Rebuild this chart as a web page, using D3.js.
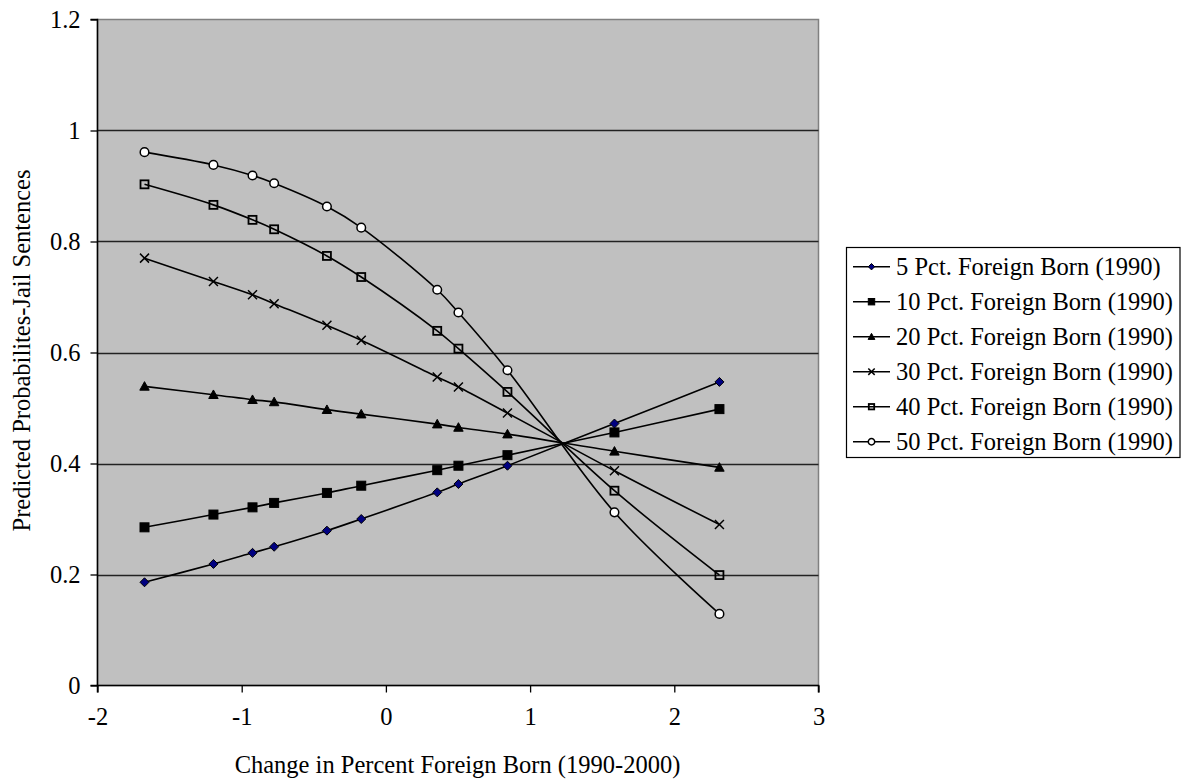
<!DOCTYPE html>
<html>
<head>
<meta charset="utf-8">
<script src="https://cdn.jsdelivr.net/npm/d3@7"></script>
<style>
  html, body { margin: 0; padding: 0; background: #fff; }
  svg { display: block; }
  text { font-family: "Liberation Serif", "Times New Roman", "DejaVu Serif", serif; fill: #000; }
</style>
</head>
<body>
<svg id="chart" width="1187" height="783"></svg>
<script>
// Change in percent foreign born, 1990-2000 (standardized)
const changeFB = [-1.674, -1.196, -0.925, -0.775, -0.409, -0.171, 0.356, 0.503, 0.843, 1.585, 2.313];

// Predicted probability of a jail sentence, by 1990 foreign-born share
const fb5  = [0.186, 0.219, 0.239, 0.250, 0.279, 0.300, 0.348, 0.363, 0.396, 0.472, 0.547];
const fb10 = [0.285, 0.308, 0.321, 0.329, 0.347, 0.360, 0.388, 0.396, 0.415, 0.456, 0.498];
const fb20 = [0.539, 0.524, 0.515, 0.511, 0.497, 0.489, 0.471, 0.465, 0.453, 0.422, 0.393];
const fb30 = [0.770, 0.728, 0.704, 0.688, 0.649, 0.622, 0.556, 0.538, 0.491, 0.387, 0.290];
const fb40 = [0.903, 0.866, 0.839, 0.822, 0.774, 0.736, 0.639, 0.607, 0.529, 0.351, 0.199];
const fb50 = [0.961, 0.938, 0.919, 0.905, 0.863, 0.825, 0.713, 0.672, 0.568, 0.312, 0.129];

const seriesNames = [
  "5 Pct. Foreign Born (1990)",
  "10 Pct. Foreign Born (1990)",
  "20 Pct. Foreign Born (1990)",
  "30 Pct. Foreign Born (1990)",
  "40 Pct. Foreign Born (1990)",
  "50 Pct. Foreign Born (1990)"
];
const seriesValues = [fb5, fb10, fb20, fb30, fb40, fb50];
const markerKinds = ["diamond", "square", "triangle", "cross", "openSquare", "circle"];

const xTicks = [-2, -1, 0, 1, 2, 3];
const yTicks = [0, 0.2, 0.4, 0.6, 0.8, 1, 1.2];
const xTickLabels = ["-2", "-1", "0", "1", "2", "3"];
const yTickLabels = ["0", "0.2", "0.4", "0.6", "0.8", "1", "1.2"];

const xTitle = "Change in Percent Foreign Born (1990-2000)";
const yTitle = "Predicted Probabilites-Jail Sentences";

// ---- layout ----
const plot = { left: 97.5, right: 818.5, top: 19.5, bottom: 685.5 };
const fontSize = 24.5;
const serif = "'Liberation Serif', 'Times New Roman', 'DejaVu Serif', serif";

const svg = d3.select("#chart");

const x = d3.scaleLinear().domain([-2, 3]).range([plot.left, plot.right]);
const y = d3.scaleLinear().domain([0, 1.2]).range([plot.bottom, plot.top]);

// plot area background
svg.append("rect")
  .attr("x", plot.left).attr("y", plot.top)
  .attr("width", plot.right - plot.left).attr("height", plot.bottom - plot.top)
  .attr("fill", "#c0c0c0").attr("stroke", "#808080").attr("stroke-width", 1.5);

// horizontal gridlines
svg.append("g").selectAll("line")
  .data(yTicks.filter(d => d > 0 && d < 1.2))
  .join("line")
  .attr("x1", plot.left).attr("x2", plot.right)
  .attr("y1", d => Math.round(y(d)) + 0.5).attr("y2", d => Math.round(y(d)) + 0.5)
  .attr("stroke", "#222").attr("stroke-width", 1.3);

// axes
const yAxis = d3.axisLeft(y).tickValues(yTicks)
  .tickFormat((d, i) => yTickLabels[i]).tickSize(7).tickPadding(10);
const xAxis = d3.axisBottom(x).tickValues(xTicks)
  .tickFormat((d, i) => xTickLabels[i]).tickSize(7).tickPadding(15);

const gy = svg.append("g").attr("transform", `translate(${plot.left},0)`).call(yAxis);
const gx = svg.append("g").attr("transform", `translate(0,${plot.bottom})`).call(xAxis);

[gx, gy].forEach(g => {
  g.attr("font-family", null).attr("font-size", null);
  g.select(".domain").attr("stroke", "#000").attr("stroke-width", 1.5);
  g.selectAll(".tick line").attr("stroke", "#000").attr("stroke-width", 1.3);
  g.selectAll(".tick text")
    .style("font-family", serif)
    .attr("font-size", fontSize).attr("fill", "#000");
});
gx.select(".domain").attr("d", `M${plot.left},7V0H${plot.right}V7`);
gy.select(".domain").attr("d", `M-7,${plot.bottom}H0V${plot.top}H-7`);

// axis titles
svg.append("text")
  .attr("x", (plot.left + plot.right) / 2 - 0.5).attr("y", 773)
  .attr("text-anchor", "middle").attr("font-size", fontSize)
  .style("font-family", serif)
  .text(xTitle);

svg.append("text")
  .attr("transform", `translate(30,${(plot.top + plot.bottom) / 2 - 2}) rotate(-90)`)
  .attr("text-anchor", "middle").attr("font-size", fontSize)
  .style("font-family", serif)
  .text(yTitle);

// ---- markers ----
function drawMarker(g, kind, s) {
  // s = half-size of the marker
  switch (kind) {
    case "diamond":
      g.append("path").attr("d", `M0,${-s}L${s},0L0,${s}L${-s},0Z`)
        .attr("fill", "#000080").attr("stroke", "#000").attr("stroke-width", 1);
      break;
    case "square":
      g.append("rect").attr("x", -s).attr("y", -s).attr("width", 2 * s).attr("height", 2 * s)
        .attr("fill", "#000").attr("stroke", "#000").attr("stroke-width", 1);
      break;
    case "triangle":
      g.append("path").attr("d", `M0,${-s * 1.05}L${s * 1.05},${s * 0.85}L${-s * 1.05},${s * 0.85}Z`)
        .attr("fill", "#000").attr("stroke", "#000").attr("stroke-width", 1);
      break;
    case "cross":
      g.append("path").attr("d", `M${-s},${-s}L${s},${s}M${-s},${s}L${s},${-s}`)
        .attr("fill", "none").attr("stroke", "#000").attr("stroke-width", 1.5);
      break;
    case "openSquare":
      g.append("rect").attr("x", -s + 0.5).attr("y", -s + 0.5).attr("width", 2 * s - 1).attr("height", 2 * s - 1)
        .attr("fill", "none").attr("stroke", "#000").attr("stroke-width", 1.8);
      break;
    case "circle":
      g.append("circle").attr("r", s)
        .attr("fill", "#fff").attr("stroke", "#000").attr("stroke-width", 1.5);
      break;
  }
}

const line = d3.line()
  .x(d => x(d[0]))
  .y(d => y(d[1]))
  .curve(d3.curveCatmullRom.alpha(0.5));

const seriesG = svg.append("g");
seriesValues.forEach((vals, i) => {
  const pts = changeFB.map((c, j) => [c, vals[j]]);
  seriesG.append("path")
    .datum(pts)
    .attr("d", line)
    .attr("fill", "none").attr("stroke", "#000").attr("stroke-width", 1.6);
});
seriesValues.forEach((vals, i) => {
  changeFB.forEach((c, j) => {
    const g = seriesG.append("g").attr("transform", `translate(${x(c)},${y(vals[j])})`);
    drawMarker(g, markerKinds[i], markerKinds[i] === "circle" ? 4.3 : 4.5);
  });
});

// ---- legend ----
const legend = svg.append("g");
const lgBox = { x: 846.5, y: 247.5, w: 333.5, h: 210 };
legend.append("rect")
  .attr("x", lgBox.x).attr("y", lgBox.y).attr("width", lgBox.w).attr("height", lgBox.h)
  .attr("fill", "#fff").attr("stroke", "#000").attr("stroke-width", 1.2);

seriesNames.forEach((name, i) => {
  const cy = 266.7 + i * 35;
  const row = legend.append("g").attr("transform", `translate(0,${cy})`);
  row.append("line").attr("x1", 853).attr("x2", 890).attr("y1", 0).attr("y2", 0)
    .attr("stroke", "#000").attr("stroke-width", 1.6);
  const m = row.append("g").attr("transform", "translate(871.5,0)");
  drawMarker(m, markerKinds[i], 3.2);
  row.append("text").attr("x", 896).attr("y", 8.5)
    .attr("font-size", fontSize)
    .style("font-family", serif)
    .text(name);
});
</script>
</body>
</html>
